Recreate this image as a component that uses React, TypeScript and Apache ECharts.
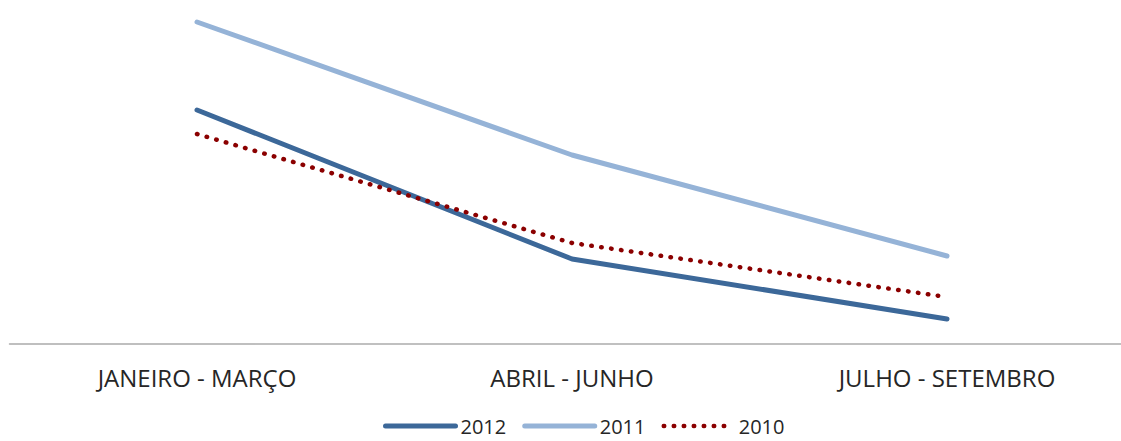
import React, { useEffect, useRef } from "react";
import * as echarts from "echarts";

const categories = ["JANEIRO - MARÇO", "ABRIL - JUNHO", "JULHO - SETEMBRO"];
const seriesNames = ["2012", "2011", "2010"];
const values2012 = [234, 85, 25];
const values2011 = [322, 189, 88];
const values2010 = [210, 101, 47];

export default function App() {
  const ref = useRef<HTMLDivElement>(null);
  useEffect(() => {
    document.body.style.margin = "0";
    const chart = echarts.init(ref.current!, null, { renderer: "svg" });
    const font = "'Open Sans', Lato, sans-serif";
    const colors = ["#3C6899", "#95B3D7", "#8B0000"];
    chart.setOption({
      animation: false,
      backgroundColor: "#ffffff",
      textStyle: { fontFamily: font },
      grid: { left: 9.5, right: -13.5, top: 14, bottom: 97, outerBoundsMode: "none", containLabel: false },
      legend: {
        left: 378,
        top: 411,
        itemWidth: 70,
        itemHeight: 16,
        itemGap: 16,
        itemStyle: { opacity: 0 },
        textStyle: { fontSize: 20, color: "#262626", fontFamily: font },
        data: [
          { name: seriesNames[0], lineStyle: { width: 5, color: colors[0], cap: "round" } },
          { name: seriesNames[1], lineStyle: { width: 5, color: colors[1], cap: "round" } },
          { name: seriesNames[2], lineStyle: { width: 4.5, color: colors[2], type: [0.5, 9.5], cap: "round" } },
        ],
      },
      xAxis: {
        type: "category",
        data: categories,
        boundaryGap: true,
        axisLine: { show: true, lineStyle: { color: "#ababab", width: 1.5 } },
        axisTick: { show: false },
        axisLabel: { color: "#262626", fontSize: 24, margin: 21, fontFamily: font },
        splitLine: { show: false },
      },
      yAxis: {
        type: "value",
        min: 0,
        max: 330,
        show: false,
        splitLine: { show: false },
      },
      series: [
        {
          name: seriesNames[0],
          type: "line",
          data: values2012,
          showSymbol: false,
          symbol: "none",
          lineStyle: { color: colors[0], width: 5, cap: "round", join: "round" },
          itemStyle: { color: colors[0] },
        },
        {
          name: seriesNames[1],
          type: "line",
          data: values2011,
          showSymbol: false,
          symbol: "none",
          lineStyle: { color: colors[1], width: 5, cap: "round", join: "round" },
          itemStyle: { color: colors[1] },
        },
        {
          name: seriesNames[2],
          type: "line",
          data: values2010,
          showSymbol: false,
          symbol: "none",
          lineStyle: { color: colors[2], width: 4.5, type: [0.5, 9.5], cap: "round", join: "round" },
          itemStyle: { color: colors[2] },
        },
      ],
    });
    return () => chart.dispose();
  }, []);
  return <div ref={ref} style={{ width: 1121, height: 441 }} />;
}
